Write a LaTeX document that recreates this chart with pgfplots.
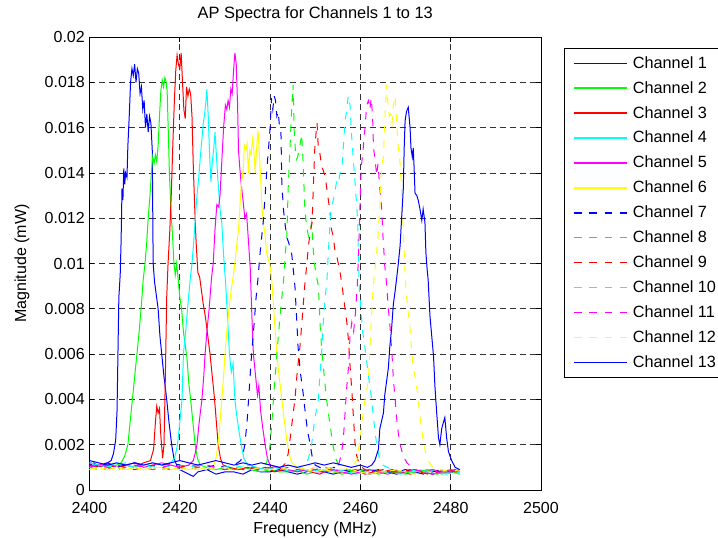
\documentclass[border=0pt]{standalone}
\usepackage{pgfplots}
\pgfplotsset{compat=1.18}
\usepackage{fontspec}
\setmainfont{Liberation Sans}

% MATLAB colours, pure RGB
\definecolor{mb}{rgb}{0,0,1}
\definecolor{mg}{rgb}{0,1,0}
\definecolor{mr}{rgb}{1,0,0}
\definecolor{mc}{rgb}{0,1,1}
\definecolor{mm}{rgb}{1,0,1}
\definecolor{my}{rgb}{1,1,0}

% 1 px of the reference = 0.75pt
\pgfplotsset{
  mdash/.style={dash pattern=on 5.6pt off 5.8pt},
}

\begin{document}
\begin{tikzpicture}
\begin{axis}[
  at={(0pt,0pt)}, anchor=south west,
  width=338.625pt, height=339.75pt, scale only axis,
  xmin=2400, xmax=2500, ymin=0, ymax=0.02,
  xtick={2400,2420,2440,2460,2480,2500},
  xticklabels={2400,2420,2440,2460,2480,2500},
  ytick={0,0.002,0.004,0.006,0.008,0.01,0.012,0.014,0.016,0.018,0.02},
  yticklabels={0,0.002,0.004,0.006,0.008,0.01,0.012,0.014,0.016,0.018,0.02},
  scaled y ticks=false,
  tick align=inside, xtick pos=both, ytick pos=both,
  major tick length=3.4pt,
  tick style={black, line width=0.6pt},
  axis line style={line width=0.6pt},
  grid=major,
  major grid style={black!80, line width=0.5pt, dash pattern=on 4.5pt off 3pt},
  every axis plot/.append style={line width=0.75pt},
  tick label style={font=\fontsize{12}{14}\selectfont},
  xticklabel style={yshift=-6pt},
  label style={font=\fontsize{12}{14}\selectfont},
  title style={font=\fontsize{12.3}{14}\selectfont, at={(axis description cs:0.5,1)}, anchor=base, yshift=8.25pt},
  xlabel style={at={(axis description cs:0.5,-0.0860)}, anchor=center},
  ylabel style={at={(axis description cs:-0.1495,0.5)}, anchor=center},
  title={AP Spectra for Channels 1 to 13},
  xlabel={Frequency (MHz)},
  ylabel={Magnitude (mW)},
  legend cell align=left,
  legend style={at={(1.0509,0.9757)}, anchor=north west,
    draw=black, line width=0.6pt, fill=white,
    font=\fontsize{12.2}{14}\selectfont,
    inner xsep=6.75pt, inner ysep=4.5pt, row sep=5.35pt, column sep=2.25pt,
    nodes={inner sep=1.5pt, text depth=0.15em}},
  legend image code/.code={\draw[#1, line width=1.1pt] (0pt,0pt) -- (39.75pt,0pt);},
]
% Channel 1
\addplot[mb] coordinates {(2400,0.0011)(2401,0.0012)(2402,0.0010)(2403,0.0011)(2404,0.0012)(2404.8,0.0013)(2405.3,0.0016)(2405.8,0.0022)(2406.1,0.0035)(2406.3,0.006)(2406.5,0.0085)(2406.8,0.0095)(2407.0,0.0110)(2407.2,0.0133)(2407.4,0.0128)(2407.6,0.0142)(2407.8,0.0135)(2408.0,0.0140)(2408.3,0.0138)(2408.5,0.0152)(2408.8,0.0165)(2409.1,0.0180)(2409.4,0.0186)(2409.7,0.0183)(2410.0,0.0188)(2410.3,0.0180)(2410.6,0.0186)(2410.9,0.0184)(2411.2,0.0175)(2411.5,0.0178)(2411.8,0.0168)(2412.1,0.0172)(2412.4,0.0160)(2412.7,0.0166)(2413.0,0.0158)(2413.3,0.0165)(2413.6,0.0162)(2413.9,0.0150)(2414.1,0.0100)(2414.4,0.0092)(2414.8,0.0086)(2415.2,0.0080)(2415.6,0.0068)(2416.0,0.0060)(2416.5,0.0050)(2417.1,0.0040)(2417.6,0.0030)(2418.2,0.0020)(2418.7,0.0014)(2419.3,0.0011)(2420,0.0009)(2421,0.0008)(2422,0.0007)(2423,0.0006)(2424,0.0008)(2426,0.0009)(2428,0.0007)(2430,0.0008)(2432,0.0008)(2434,0.0007)(2436,0.0009)(2438,0.0008)(2440,0.0008)(2442,0.0009)(2444,0.0008)(2446,0.0007)(2448,0.0008)(2450,0.0009)(2452,0.0008)(2454,0.0007)(2456,0.0008)(2458,0.0009)(2460,0.0008)(2462,0.0007)(2464,0.0008)(2466,0.0008)(2468,0.0007)(2470,0.0008)(2472,0.0009)(2474,0.0008)(2476,0.0007)(2478,0.0008)(2480,0.0008)(2482,0.0009)};
\addlegendentry{Channel 1}
% Channel 2
\addplot[mg] coordinates {(2400,0.0010)(2402,0.0011)(2404,0.0010)(2406,0.0011)(2407,0.0012)(2407.8,0.0015)(2408.5,0.0020)(2409.0,0.0030)(2409.6,0.0042)(2410.0,0.0050)(2410.5,0.0060)(2411.0,0.0070)(2411.5,0.0082)(2411.9,0.0093)(2412.3,0.0100)(2412.7,0.0110)(2413.0,0.0120)(2413.4,0.0130)(2413.7,0.0140)(2414.0,0.0147)(2414.3,0.0144)(2414.6,0.0148)(2414.9,0.0145)(2415.2,0.0152)(2415.5,0.0165)(2415.8,0.0176)(2416.1,0.0181)(2416.4,0.0178)(2416.7,0.0182)(2417.0,0.0180)(2417.2,0.0176)(2417.4,0.0162)(2417.7,0.0140)(2418.0,0.0125)(2418.4,0.0112)(2418.7,0.0100)(2419.0,0.0095)(2419.3,0.0100)(2419.6,0.0094)(2420.0,0.0085)(2420.4,0.0080)(2420.8,0.0070)(2421.2,0.0064)(2421.6,0.0058)(2422.0,0.0047)(2422.4,0.0040)(2422.9,0.0030)(2423.4,0.0020)(2423.9,0.0014)(2424.5,0.0011)(2426,0.0010)(2428,0.0009)(2430,0.0010)(2432,0.0009)(2434,0.0010)(2436,0.0009)(2438,0.0008)(2440,0.0009)(2442,0.0008)(2444,0.0008)(2446,0.0009)(2448,0.0007)(2450,0.0008)(2452,0.0009)(2454,0.0008)(2456,0.0007)(2458,0.0008)(2460,0.0008)(2462,0.0009)(2464,0.0007)(2466,0.0008)(2468,0.0008)(2470,0.0007)(2472,0.0008)(2474,0.0008)(2476,0.0009)(2478,0.0007)(2480,0.0008)(2482,0.0007)};
\addlegendentry{Channel 2}
% Channel 3
\addplot[mr] coordinates {(2400,0.0011)(2402,0.0010)(2404,0.0011)(2406,0.0010)(2408,0.0011)(2410,0.0010)(2412,0.0012)(2413.5,0.0013)(2414.2,0.0018)(2414.6,0.0030)(2414.9,0.0037)(2415.2,0.0034)(2415.5,0.0036)(2415.8,0.0024)(2416.2,0.0014)(2416.5,0.0020)(2416.8,0.0050)(2417.1,0.0085)(2417.4,0.0100)(2417.8,0.0115)(2418.1,0.0130)(2418.5,0.0155)(2418.8,0.0172)(2419.1,0.0185)(2419.4,0.0192)(2419.7,0.0188)(2420.0,0.0186)(2420.3,0.0193)(2420.6,0.0180)(2420.9,0.0168)(2421.2,0.0164)(2421.5,0.0178)(2421.8,0.0174)(2422.1,0.0177)(2422.4,0.0175)(2422.7,0.0165)(2423.0,0.0142)(2423.3,0.0125)(2423.6,0.0110)(2424.0,0.0096)(2424.4,0.0094)(2424.8,0.0088)(2425.2,0.0082)(2425.7,0.0076)(2426.2,0.0068)(2426.7,0.0060)(2427.2,0.0050)(2427.7,0.0040)(2428.1,0.0030)(2428.5,0.0020)(2429.0,0.0014)(2429.6,0.0011)(2431,0.0010)(2433,0.0009)(2435,0.0010)(2437,0.0009)(2439,0.0010)(2441,0.0008)(2443,0.0009)(2445,0.0008)(2447,0.0009)(2449,0.0008)(2451,0.0007)(2453,0.0009)(2455,0.0008)(2457,0.0008)(2459,0.0009)(2461,0.0007)(2463,0.0008)(2465,0.0008)(2467,0.0009)(2469,0.0008)(2471,0.0007)(2473,0.0008)(2475,0.0009)(2477,0.0008)(2479,0.0008)(2481,0.0009)(2482,0.0008)};
\addlegendentry{Channel 3}
% Channel 4
\addplot[mc] coordinates {(2400,0.0012)(2402,0.0011)(2404,0.0010)(2406,0.0012)(2408,0.0011)(2410,0.0010)(2412,0.0011)(2414,0.0012)(2416,0.0011)(2418,0.0012)(2418.8,0.0014)(2419.3,0.0018)(2419.6,0.0022)(2420.0,0.0030)(2420.5,0.0040)(2420.8,0.0060)(2421.3,0.0070)(2421.8,0.0082)(2422.3,0.0093)(2422.7,0.0100)(2423.1,0.0110)(2423.5,0.0122)(2423.8,0.0130)(2424.2,0.0138)(2424.5,0.0146)(2424.9,0.0155)(2425.2,0.0162)(2425.5,0.0166)(2425.8,0.0172)(2426.0,0.0177)(2426.3,0.0165)(2426.6,0.0148)(2426.9,0.0136)(2427.2,0.0145)(2427.5,0.0150)(2427.8,0.0158)(2428.1,0.0148)(2428.4,0.0138)(2428.7,0.0130)(2429.0,0.0122)(2429.3,0.0118)(2429.6,0.0107)(2429.9,0.0098)(2430.2,0.0090)(2430.6,0.0075)(2431.0,0.0060)(2431.4,0.0052)(2431.8,0.0056)(2432.2,0.0040)(2432.6,0.0033)(2433.1,0.0026)(2433.6,0.0020)(2434.2,0.0014)(2435,0.0011)(2437,0.0010)(2439,0.0009)(2441,0.0010)(2443,0.0009)(2445,0.0008)(2447,0.0009)(2449,0.0008)(2451,0.0009)(2453,0.0008)(2455,0.0009)(2457,0.0008)(2459,0.0007)(2461,0.0008)(2463,0.0009)(2465,0.0008)(2467,0.0008)(2469,0.0007)(2471,0.0008)(2473,0.0008)(2475,0.0009)(2477,0.0008)(2479,0.0007)(2481,0.0008)(2482,0.0008)};
\addlegendentry{Channel 4}
% Channel 5
\addplot[mm] coordinates {(2400,0.0010)(2402,0.0011)(2404,0.0012)(2406,0.0010)(2408,0.0011)(2410,0.0012)(2412,0.0010)(2414,0.0011)(2416,0.0012)(2418,0.0011)(2420,0.0010)(2422,0.0011)(2423.0,0.0013)(2423.5,0.0017)(2423.8,0.0020)(2424.3,0.0030)(2424.9,0.0040)(2425.3,0.0050)(2425.6,0.0060)(2426.0,0.0070)(2426.5,0.0080)(2427.0,0.0093)(2427.4,0.0100)(2427.8,0.0115)(2428.2,0.0126)(2428.6,0.0125)(2428.9,0.0130)(2429.3,0.0145)(2429.7,0.0160)(2430.1,0.0170)(2430.4,0.0168)(2430.7,0.0172)(2431.0,0.0169)(2431.3,0.0177)(2431.6,0.0175)(2431.9,0.0185)(2432.2,0.0193)(2432.5,0.0188)(2432.8,0.0170)(2433.0,0.0150)(2433.3,0.0142)(2433.6,0.0135)(2434.0,0.0128)(2434.4,0.0120)(2434.8,0.0122)(2435.2,0.0110)(2435.6,0.0098)(2436.0,0.0075)(2436.3,0.0060)(2436.8,0.0050)(2437.2,0.0042)(2437.5,0.0046)(2437.9,0.0035)(2438.4,0.0027)(2438.9,0.0020)(2439.4,0.0014)(2440,0.0011)(2442,0.0010)(2444,0.0009)(2446,0.0008)(2448,0.0009)(2450,0.0008)(2452,0.0008)(2454,0.0009)(2456,0.0008)(2458,0.0007)(2460,0.0008)(2462,0.0009)(2464,0.0008)(2466,0.0007)(2468,0.0008)(2470,0.0008)(2472,0.0009)(2474,0.0008)(2476,0.0007)(2478,0.0008)(2480,0.0009)(2482,0.0008)};
\addlegendentry{Channel 5}
% Channel 6
\addplot[my] coordinates {(2400,0.0009)(2402,0.0010)(2404,0.0009)(2406,0.0010)(2408,0.0009)(2410,0.0010)(2412,0.0009)(2414,0.0010)(2416,0.0010)(2418,0.0009)(2420,0.0010)(2422,0.0009)(2424,0.0010)(2426,0.0009)(2427.5,0.0011)(2428.0,0.0014)(2428.5,0.0020)(2428.9,0.0030)(2429.3,0.0040)(2429.7,0.0050)(2430.0,0.0060)(2430.5,0.0072)(2431.0,0.0082)(2431.5,0.0090)(2431.9,0.0095)(2432.2,0.0100)(2432.6,0.0108)(2433.0,0.0115)(2433.4,0.0128)(2433.8,0.0140)(2434.0,0.0138)(2434.3,0.0152)(2434.6,0.0150)(2434.9,0.0153)(2435.2,0.0140)(2435.5,0.0150)(2435.8,0.0148)(2436.1,0.0155)(2436.4,0.0150)(2436.7,0.0140)(2437.0,0.0150)(2437.3,0.0159)(2437.6,0.0150)(2437.9,0.0138)(2438.2,0.0125)(2438.5,0.0118)(2438.9,0.0112)(2439.2,0.0105)(2439.6,0.0102)(2440.0,0.0099)(2440.4,0.0092)(2440.8,0.0080)(2441.2,0.0068)(2441.5,0.0060)(2442.0,0.0050)(2442.6,0.0040)(2443.2,0.0030)(2443.7,0.0022)(2444.2,0.0016)(2444.8,0.0012)(2446,0.0010)(2448,0.0009)(2450,0.0008)(2452,0.0009)(2454,0.0008)(2456,0.0008)(2458,0.0009)(2460,0.0008)(2462,0.0007)(2464,0.0008)(2466,0.0008)(2468,0.0009)(2470,0.0008)(2472,0.0007)(2474,0.0008)(2476,0.0008)(2478,0.0009)(2480,0.0008)(2482,0.0008)};
\addlegendentry{Channel 6}
% Channel 7
\addplot[mb, mdash] coordinates {(2400,0.0012)(2402,0.0011)(2404,0.0012)(2406,0.0010)(2408,0.0011)(2410,0.0012)(2412,0.0011)(2414,0.0010)(2416,0.0011)(2418,0.0012)(2420,0.0011)(2422,0.0010)(2424,0.0011)(2426,0.0010)(2428,0.0011)(2430,0.0010)(2432,0.0011)(2433.5,0.0013)(2434.0,0.0016)(2434.4,0.0020)(2434.9,0.0030)(2435.4,0.0045)(2435.9,0.0060)(2436.4,0.0072)(2436.9,0.0085)(2437.3,0.0093)(2437.8,0.0105)(2438.5,0.0119)(2438.9,0.0130)(2439.3,0.0142)(2439.7,0.0152)(2440.0,0.0160)(2440.3,0.0173)(2440.6,0.0168)(2440.9,0.0174)(2441.2,0.0172)(2441.5,0.0165)(2441.8,0.0167)(2442.1,0.0160)(2442.4,0.0158)(2442.6,0.0135)(2443.0,0.0123)(2443.4,0.0116)(2443.8,0.0111)(2444.3,0.0108)(2444.8,0.0104)(2445.2,0.0096)(2445.5,0.0090)(2445.9,0.0075)(2446.2,0.0063)(2446.7,0.0052)(2447.3,0.0043)(2447.8,0.0034)(2448.3,0.0026)(2448.8,0.0021)(2449.3,0.0015)(2450,0.0011)(2452,0.0009)(2454,0.0010)(2456,0.0009)(2458,0.0008)(2460,0.0009)(2462,0.0008)(2464,0.0009)(2466,0.0008)(2468,0.0008)(2470,0.0009)(2472,0.0008)(2474,0.0007)(2476,0.0008)(2478,0.0009)(2480,0.0008)(2482,0.0008)};
\addlegendentry{Channel 7}
% Channel 8
\addplot[mg, mdash] coordinates {(2400,0.0010)(2402,0.0009)(2404,0.0011)(2406,0.0010)(2408,0.0009)(2410,0.0010)(2412,0.0011)(2414,0.0010)(2416,0.0009)(2418,0.0010)(2420,0.0011)(2422,0.0010)(2424,0.0009)(2426,0.0010)(2428,0.0009)(2430,0.0010)(2432,0.0009)(2434,0.0010)(2436,0.0009)(2438,0.0010)(2439.2,0.0012)(2439.7,0.0016)(2440.0,0.0020)(2440.4,0.0030)(2440.8,0.0042)(2441.2,0.0052)(2441.5,0.0060)(2442.0,0.0072)(2442.6,0.0085)(2443.0,0.0093)(2443.4,0.0105)(2443.7,0.0112)(2444.0,0.0133)(2444.4,0.0151)(2444.8,0.0169)(2445.1,0.0179)(2445.3,0.0160)(2445.6,0.0150)(2445.9,0.0146)(2446.2,0.0148)(2446.6,0.0152)(2447.0,0.0157)(2447.3,0.0145)(2447.7,0.0124)(2448.1,0.0116)(2448.5,0.0112)(2448.8,0.0114)(2449.2,0.0118)(2449.6,0.0105)(2449.9,0.0099)(2450.3,0.0094)(2450.7,0.0090)(2451.1,0.0072)(2451.4,0.0063)(2452.0,0.0050)(2452.5,0.0040)(2453.2,0.0030)(2453.9,0.0020)(2454.5,0.0014)(2455.2,0.0011)(2457,0.0009)(2459,0.0008)(2461,0.0009)(2463,0.0008)(2465,0.0009)(2467,0.0008)(2469,0.0007)(2471,0.0008)(2473,0.0009)(2475,0.0008)(2477,0.0007)(2479,0.0008)(2481,0.0008)(2482,0.0007)};
\addlegendentry{Channel 8}
% Channel 9
\addplot[mr, mdash] coordinates {(2400,0.0011)(2402,0.0010)(2404,0.0009)(2406,0.0011)(2408,0.0010)(2410,0.0009)(2412,0.0010)(2414,0.0011)(2416,0.0010)(2418,0.0009)(2420,0.0010)(2422,0.0011)(2424,0.0010)(2426,0.0009)(2428,0.0010)(2430,0.0009)(2432,0.0010)(2434,0.0009)(2436,0.0010)(2438,0.0009)(2440,0.0010)(2442,0.0009)(2443.5,0.0012)(2444.0,0.0016)(2444.4,0.0022)(2445.0,0.0032)(2445.5,0.0040)(2446.0,0.0052)(2446.6,0.0063)(2447.2,0.0078)(2447.7,0.0091)(2448.1,0.0099)(2448.5,0.0108)(2448.9,0.0114)(2449.3,0.0118)(2449.6,0.0135)(2449.9,0.0151)(2450.2,0.0158)(2450.4,0.0162)(2450.7,0.0150)(2451.0,0.0149)(2451.4,0.0143)(2451.8,0.0141)(2452.2,0.0138)(2452.5,0.0134)(2452.9,0.0128)(2453.2,0.0124)(2453.6,0.0115)(2454.0,0.0112)(2454.4,0.0105)(2454.8,0.0103)(2455.1,0.0100)(2455.5,0.0096)(2455.9,0.0091)(2456.4,0.0083)(2457.0,0.0074)(2457.4,0.0065)(2457.7,0.0055)(2458.1,0.0044)(2458.4,0.0034)(2458.8,0.0021)(2459.2,0.0015)(2459.8,0.0011)(2461,0.0009)(2463,0.0008)(2465,0.0009)(2467,0.0008)(2469,0.0008)(2471,0.0009)(2473,0.0008)(2475,0.0007)(2477,0.0008)(2479,0.0009)(2481,0.0008)(2482,0.0008)};
\addlegendentry{Channel 9}
% Channel 10
\addplot[mc, mdash] coordinates {(2400,0.0012)(2402,0.0011)(2404,0.0010)(2406,0.0011)(2408,0.0012)(2410,0.0010)(2412,0.0011)(2414,0.0010)(2416,0.0011)(2418,0.0010)(2420,0.0009)(2422,0.0010)(2424,0.0011)(2426,0.0010)(2428,0.0009)(2430,0.0010)(2432,0.0011)(2434,0.0010)(2436,0.0009)(2438,0.0010)(2440,0.0009)(2442,0.0010)(2444,0.0009)(2446,0.0010)(2447.8,0.0011)(2448.5,0.0014)(2449.2,0.0020)(2449.8,0.0030)(2450.3,0.0036)(2450.7,0.0040)(2451.0,0.0050)(2451.4,0.0060)(2451.8,0.0075)(2452.2,0.0085)(2452.6,0.0093)(2452.9,0.0105)(2453.3,0.0119)(2453.6,0.0125)(2454.0,0.0128)(2454.4,0.0132)(2454.7,0.0136)(2455.1,0.0135)(2455.5,0.0140)(2455.9,0.0142)(2456.2,0.0151)(2456.6,0.0163)(2457.0,0.0168)(2457.3,0.0174)(2457.7,0.0170)(2458.0,0.0158)(2458.4,0.0147)(2458.8,0.0136)(2459.2,0.0125)(2459.4,0.0119)(2459.7,0.0091)(2460.1,0.0080)(2460.5,0.0070)(2461.2,0.0060)(2461.8,0.0050)(2462.5,0.0040)(2463.0,0.0030)(2463.6,0.0020)(2464.2,0.0014)(2465,0.0011)(2467,0.0009)(2469,0.0008)(2471,0.0009)(2473,0.0008)(2475,0.0008)(2477,0.0009)(2479,0.0008)(2481,0.0007)(2482,0.0008)};
\addlegendentry{Channel 10}
% Channel 11
\addplot[mm, mdash] coordinates {(2400,0.0010)(2402,0.0011)(2404,0.0010)(2406,0.0009)(2408,0.0010)(2410,0.0011)(2412,0.0010)(2414,0.0009)(2416,0.0010)(2418,0.0011)(2420,0.0010)(2422,0.0009)(2424,0.0010)(2426,0.0011)(2428,0.0010)(2430,0.0009)(2432,0.0010)(2434,0.0009)(2436,0.0010)(2438,0.0009)(2440,0.0010)(2442,0.0009)(2444,0.0010)(2446,0.0009)(2448,0.0010)(2450,0.0009)(2452,0.0010)(2454,0.0009)(2455.3,0.0012)(2455.8,0.0016)(2456.2,0.0022)(2456.6,0.0034)(2457.0,0.0046)(2457.4,0.0055)(2457.7,0.0068)(2458.1,0.0074)(2458.5,0.0070)(2458.9,0.0078)(2459.3,0.0090)(2459.6,0.0105)(2459.9,0.0125)(2460.2,0.0143)(2460.5,0.0148)(2460.8,0.0155)(2461.1,0.0162)(2461.4,0.0170)(2461.8,0.0172)(2462.1,0.0168)(2462.4,0.0173)(2462.7,0.0165)(2462.9,0.0151)(2463.3,0.0145)(2463.6,0.0139)(2463.9,0.0144)(2464.3,0.0133)(2464.7,0.0125)(2465.0,0.0112)(2465.4,0.0099)(2465.8,0.0091)(2466.2,0.0080)(2466.6,0.0071)(2467.0,0.0060)(2467.3,0.0049)(2467.7,0.0040)(2468.0,0.0032)(2468.4,0.0025)(2468.8,0.0020)(2469.5,0.0015)(2470.3,0.0012)(2472,0.0009)(2474,0.0008)(2476,0.0009)(2478,0.0008)(2480,0.0008)(2482,0.0009)};
\addlegendentry{Channel 11}
% Channel 12
\addplot[my, mdash] coordinates {(2400,0.0009)(2402,0.0010)(2404,0.0009)(2406,0.0010)(2408,0.0009)(2410,0.0010)(2412,0.0009)(2414,0.0010)(2416,0.0009)(2418,0.0010)(2420,0.0009)(2422,0.0010)(2424,0.0009)(2426,0.0010)(2428,0.0009)(2430,0.0010)(2432,0.0009)(2434,0.0010)(2436,0.0009)(2438,0.0010)(2440,0.0009)(2442,0.0010)(2444,0.0009)(2446,0.0010)(2448,0.0009)(2450,0.0010)(2452,0.0009)(2454,0.0010)(2456,0.0009)(2458,0.0010)(2459.2,0.0013)(2459.9,0.0022)(2460.3,0.0028)(2460.6,0.0034)(2461.2,0.0042)(2461.8,0.0049)(2462.1,0.0063)(2462.5,0.0078)(2462.9,0.0091)(2463.2,0.0097)(2463.6,0.0105)(2463.9,0.0112)(2464.3,0.0125)(2464.7,0.0143)(2465.1,0.0147)(2465.3,0.0158)(2465.5,0.0167)(2465.8,0.0179)(2466.1,0.0170)(2466.4,0.0165)(2466.7,0.0166)(2467.0,0.0162)(2467.3,0.0170)(2467.7,0.0174)(2468.0,0.0163)(2468.4,0.0151)(2468.8,0.0144)(2469.1,0.0133)(2469.4,0.0119)(2469.7,0.0105)(2470.0,0.0091)(2470.5,0.0080)(2471.0,0.0071)(2471.4,0.0060)(2471.7,0.0054)(2472.1,0.0050)(2472.5,0.0045)(2472.9,0.0038)(2473.2,0.0032)(2473.9,0.0022)(2474.5,0.0016)(2475.0,0.0013)(2476,0.0010)(2478,0.0009)(2480,0.0008)(2482,0.0009)};
\addlegendentry{Channel 12}
% Channel 13
\addplot[mb] coordinates {(2400,0.0013)(2402,0.0012)(2404,0.0011)(2406,0.0012)(2408,0.0011)(2410,0.0012)(2412,0.0011)(2414,0.0012)(2416,0.0011)(2418,0.0012)(2420,0.0013)(2422,0.0012)(2424,0.0011)(2426,0.0012)(2428,0.0013)(2430,0.0012)(2432,0.0011)(2434,0.0012)(2436,0.0011)(2438,0.0012)(2440,0.0011)(2442,0.0010)(2444,0.0011)(2446,0.0010)(2448,0.0011)(2450,0.0012)(2452,0.0011)(2454,0.0012)(2456,0.0011)(2458,0.0010)(2460,0.0011)(2461.5,0.0010)(2462.5,0.0011)(2463.2,0.0013)(2464.0,0.0018)(2464.3,0.0027)(2465.1,0.0034)(2465.4,0.0042)(2465.8,0.0048)(2466.2,0.0054)(2466.5,0.0063)(2466.9,0.0071)(2467.3,0.0082)(2467.7,0.0088)(2468.0,0.0093)(2468.4,0.0100)(2468.8,0.0108)(2469.1,0.0119)(2469.5,0.0133)(2469.7,0.0151)(2469.9,0.0163)(2470.2,0.0167)(2470.6,0.0169)(2471.0,0.0160)(2471.2,0.0151)(2471.5,0.0147)(2471.7,0.0151)(2471.9,0.0142)(2472.1,0.0131)(2472.5,0.0130)(2472.8,0.0128)(2473.2,0.0124)(2473.6,0.0119)(2473.9,0.0124)(2474.3,0.0118)(2474.5,0.0105)(2474.8,0.0097)(2475.0,0.0093)(2475.4,0.0077)(2475.8,0.0068)(2476.2,0.0059)(2476.5,0.0046)(2476.9,0.0034)(2477.3,0.0023)(2477.6,0.0020)(2478.0,0.0027)(2478.4,0.0030)(2478.7,0.0032)(2479.1,0.0023)(2479.5,0.0017)(2480.2,0.0013)(2481,0.0010)(2482,0.0009)};
\addlegendentry{Channel 13}
\end{axis}
\pgfresetboundingbox
\path[use as bounding box] (-67.125pt,-35.25pt) rectangle (471.375pt,367.5pt);
\end{tikzpicture}
\end{document}
